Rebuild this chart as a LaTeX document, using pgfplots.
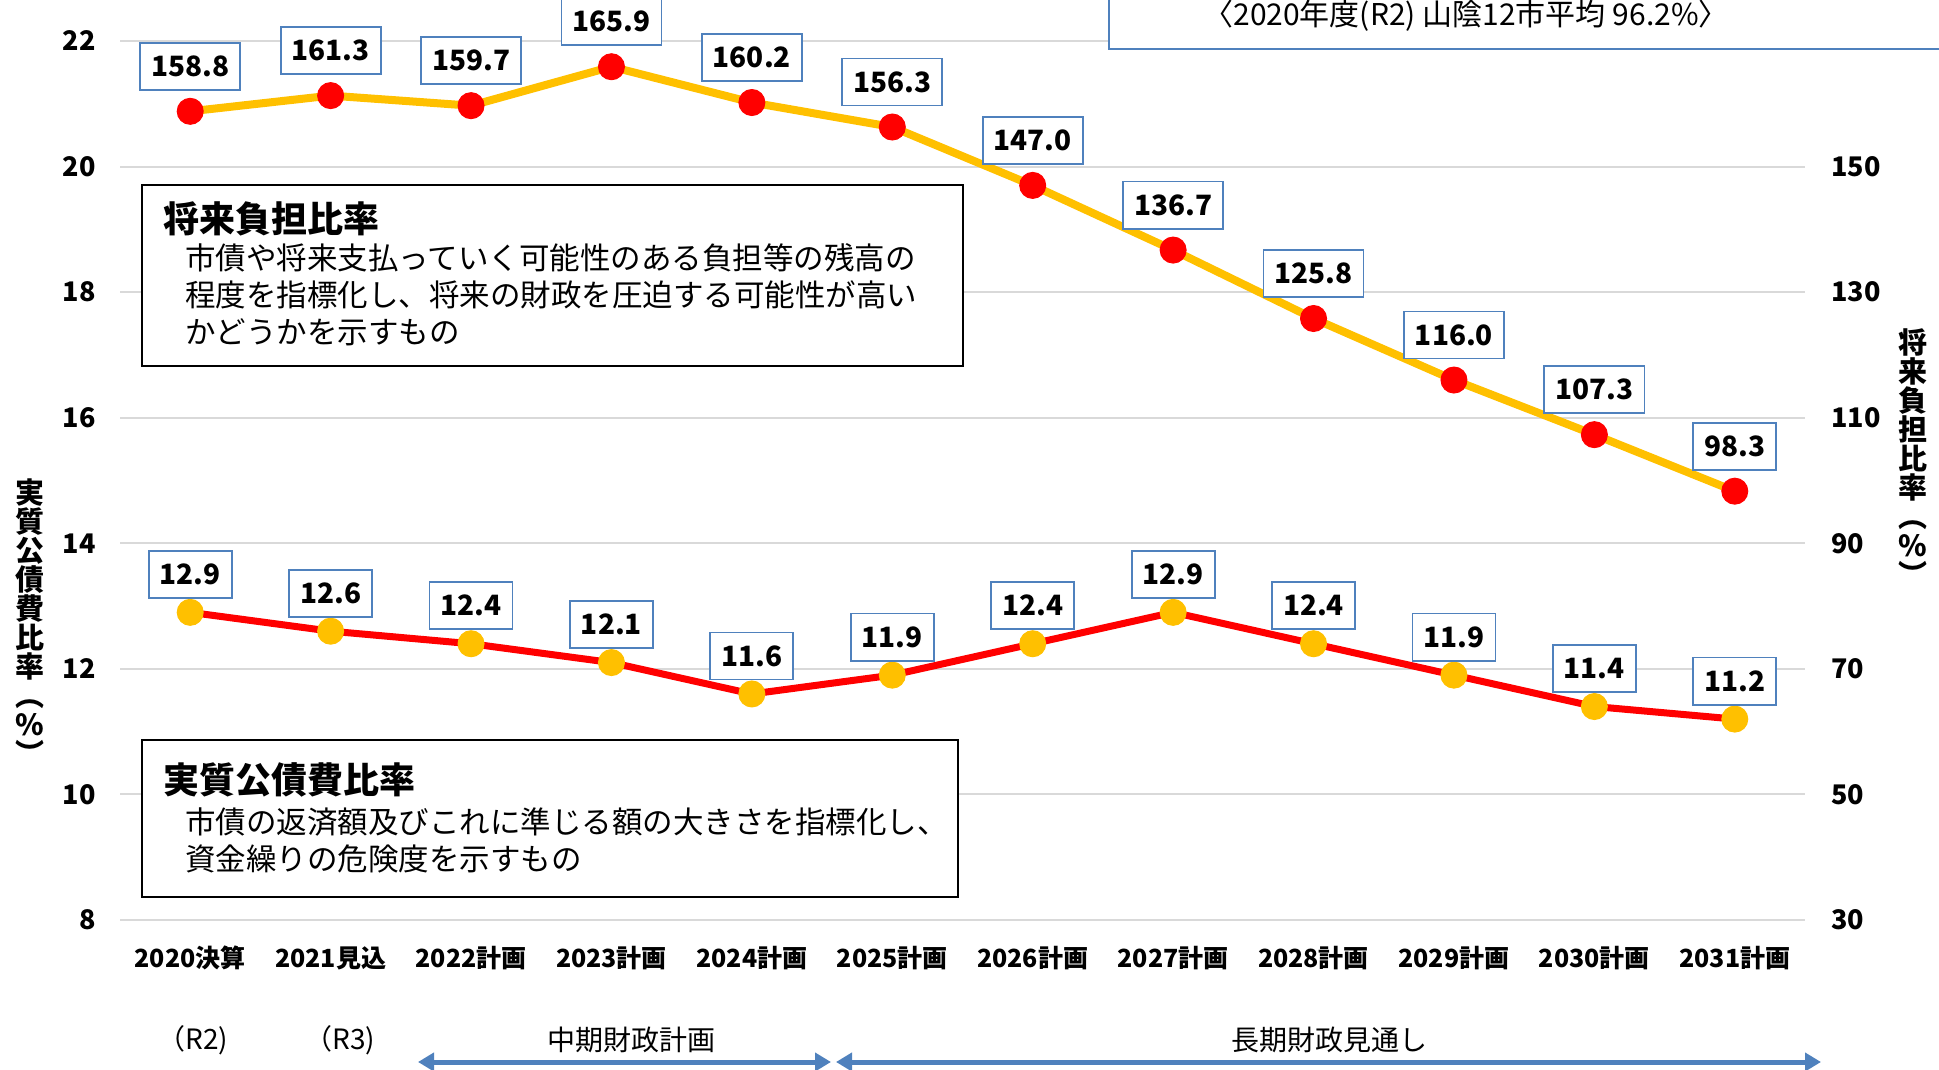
\documentclass[border=0pt]{standalone}
\usepackage{pgfplots}
\pgfplotsset{compat=1.18}
\usepackage{fontspec}
\setmainfont{Noto Sans CJK JP}
\usetikzlibrary{arrows.meta}
\definecolor{myorange}{RGB}{255,192,0}
\definecolor{myred}{RGB}{255,0,0}
\definecolor{myblue}{RGB}{79,129,189}
\definecolor{mygrid}{RGB}{217,217,217}
\newcommand{\fs}[1]{\fontsize{#1}{#1}\selectfont}
\begin{document}
\begin{tikzpicture}[x=1pt,y=1pt]
\begin{axis}[
  at={(120pt,149pt)}, anchor=south west,
  scale only axis, width=1685pt, height=879pt,
  xmin=-0.5, xmax=11.5, ymin=8, ymax=22,
  xtick={0,...,11},
  xticklabels={2020決算,2021見込,2022計画,2023計画,2024計画,2025計画,2026計画,2027計画,2028計画,2029計画,2030計画,2031計画},
  ytick={8,10,...,22},
  ymajorgrids, grid style={mygrid, line width=2pt},
  axis line style={draw=none},
  major tick length=0pt,
  /pgf/number format/assume math mode=true,
  yticklabel style={font=\bfseries\fs{27}, xshift=-21pt},
  xticklabel style={font=\bfseries\fs{25}, anchor=center, yshift=-38pt},
  clip=false,
]
\addplot[myred, line width=7pt, mark=*, mark size=13pt,
  mark options={draw=myorange, fill=myorange, line width=1pt},
  nodes near coords={\pgfmathprintnumber[fixed,fixed zerofill,precision=1]{\pgfplotspointmeta}},
  every node near coord/.append style={anchor=center, yshift=38pt, draw=myblue, fill=white,
    line width=1.8pt, text=black, font=\bfseries\fs{28}, inner xsep=11pt, inner ysep=13pt}]
coordinates {(0,12.9) (1,12.6) (2,12.4) (3,12.1) (4,11.6) (5,11.9) (6,12.4) (7,12.9) (8,12.4) (9,11.9) (10,11.4) (11,11.2)};
\end{axis}
\begin{axis}[
  at={(120pt,149pt)}, anchor=south west,
  scale only axis, width=1685pt, height=879pt,
  xmin=-0.5, xmax=11.5, ymin=30, ymax=170,
  hide x axis,
  ytick={30,50,...,150},
  yticklabel pos=right,
  axis line style={draw=none},
  major tick length=0pt,
  /pgf/number format/assume math mode=true,
  yticklabel style={font=\bfseries\fs{27}, xshift=23pt},
  clip=false,
]
\addplot[myorange, line width=8pt, mark=*, mark size=13pt,
  mark options={draw=myred, fill=myred, line width=1pt},
  nodes near coords={\pgfmathprintnumber[fixed,fixed zerofill,precision=1]{\pgfplotspointmeta}},
  every node near coord/.append style={anchor=center, yshift=45pt, draw=myblue, fill=white,
    line width=1.8pt, text=black, font=\bfseries\fs{28}, inner xsep=11pt, inner ysep=13pt}]
coordinates {(0,158.8) (1,161.3) (2,159.7) (3,165.9) (4,160.2) (5,156.3) (6,147.0) (7,136.7) (8,125.8) (9,116.0) (10,107.3) (11,98.3)};
\end{axis}
% description boxes
\draw[line width=1.5pt, fill=white] (142,703) rectangle (963,884);
\node[anchor=west, inner sep=0pt, font=\bfseries\fs{36}] at (163,850) {将来負担比率};
\node[anchor=west, inner sep=0pt, font=\fs{30.5}] at (185,811) {市債や将来支払っていく可能性のある負担等の残高の};
\node[anchor=west, inner sep=0pt, font=\fs{30.5}] at (185,774) {程度を指標化し、将来の財政を圧迫する可能性が高い};
\node[anchor=west, inner sep=0pt, font=\fs{30.5}] at (185,737) {かどうかを示すもの};
\draw[line width=1.5pt, fill=white] (142,172) rectangle (958,329);
\node[anchor=west, inner sep=0pt, font=\bfseries\fs{36}] at (163,289) {実質公債費比率};
\node[anchor=west, inner sep=0pt, font=\fs{30.5}] at (185,247) {市債の返済額及びこれに準じる額の大きさを指標化し、};
\node[anchor=west, inner sep=0pt, font=\fs{30.5}] at (185,210) {資金繰りの危険度を示すもの};
% top right box
\draw[myblue, line width=2pt, fill=white] (1109,1020) rectangle (1990,1100);
\node[font=\fs{30}] at (1466,1053) {〈2020年度(R2) 山陰12市平均 96.2\%〉};
% axis titles
\node[align=center, font=\bfseries\fontsize{29}{29}\selectfont] at (30,447) {実\\質\\公\\債\\費\\比\\率\\︵\\\%\\︶};
\node[align=center, font=\bfseries\fontsize{29}{29}\selectfont] at (1913,612) {将\\来\\負\\担\\比\\率\\︵\\\%\\︶};
% bottom annotations
\node[font=\fs{28}] at (193,29) {（R2)};
\node[font=\fs{28}] at (340,29) {（R3)};
\node[font=\fs{28}] at (631,29) {中期財政計画};
\node[font=\fs{28}] at (1329,29) {長期財政見通し};
\draw[myblue, line width=5pt, {Triangle[length=16pt,width=18pt]}-{Triangle[length=16pt,width=18pt]}] (418,7) -- (831,7);
\draw[myblue, line width=5pt, {Triangle[length=16pt,width=18pt]}-{Triangle[length=16pt,width=18pt]}] (836,7) -- (1821,7);
\pgfresetboundingbox
\path (0,0) rectangle (1939,1069);
\end{tikzpicture}
\end{document}
